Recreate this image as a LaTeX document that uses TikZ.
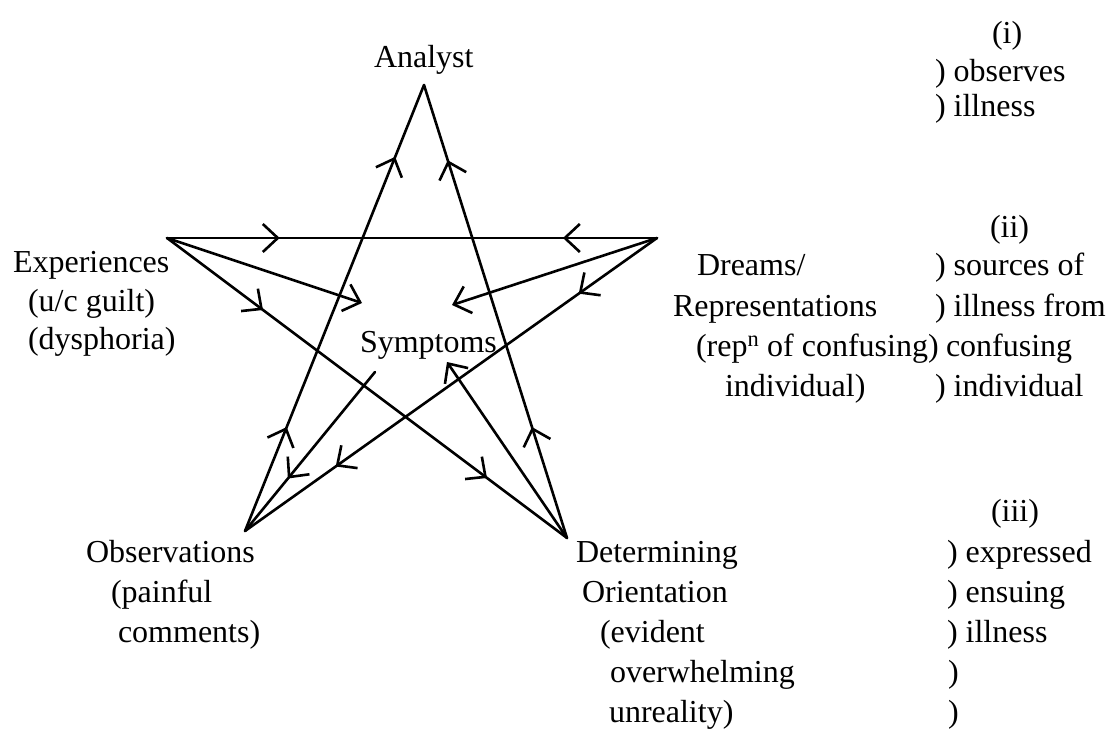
\documentclass[tikz,border=0pt]{standalone}
\usepackage{fontspec}
\setmainfont{Liberation Serif}
\usetikzlibrary{arrows.meta,decorations.markings}

\tikzset{
  chev/.tip={Straight Barb[length=15pt,width=28pt]},
  lbl/.style={inner sep=0pt, outer sep=0pt, anchor=base west,
              font=\fontsize{32}{40}\selectfont},
  edge/.style={line width=2.6pt, line cap=round, line join=round},
  twoarrows/.style 2 args={postaction={decorate},
    decoration={markings,
      mark=at position #1 with {\arrow{chev}},
      mark=at position #2 with {\arrow{chev}}}},
  inarrows/.style 2 args={postaction={decorate},
    decoration={markings,
      mark=at position #1 with {\arrow{chev}},
      mark=at position #2 with {\arrowreversed{chev}}}},
  onearrow/.style={postaction={decorate},
    decoration={markings, mark=at position #1 with {\arrow{chev}}}},
}

\begin{document}
\begin{tikzpicture}[x=1pt,y=-1pt]
  \fill[white] (0,0) rectangle (1119,730);
  \useasboundingbox (0,0) rectangle (1119,730);

  % points of the star and the ends at the centre
  \coordinate (A) at (424,85);
  \coordinate (E) at (167,238);
  \coordinate (D) at (657,238);
  \coordinate (O) at (245,531);
  \coordinate (T) at (567,538);
  \coordinate (SE) at (362,303);
  \coordinate (SD) at (452,305);
  \coordinate (SO) at (375,372);
  \coordinate (ST) at (447,362);

  % star edges
  \draw[edge, twoarrows={0.233}{0.839}] (O) -- (A);
  \draw[edge, twoarrows={0.245}{0.834}] (T) -- (A);
  \draw[edge, inarrows={0.23}{0.808}] (E) -- (D);
  \draw[edge, twoarrows={0.24}{0.80}] (E) -- (T);
  \draw[edge, twoarrows={0.19}{0.78}] (D) -- (O);

  % spokes to and from Symptoms
  \draw[edge, -{chev}] (E) -- (SE);
  \draw[edge, -{chev}] (D) -- (SD);
  \draw[edge, onearrow=0.67] (SO) -- (O);
  \draw[edge, -{chev}] (T) -- (ST);

  % labels of the star
  \node[lbl] (analyst) at (374,68) {Analyst};

  \node[lbl] (exp1) at (13,272) {Experiences};
  \node[lbl] (exp2) at (28,311) {(u/c guilt)};
  \node[lbl] (exp3) at (28,349) {(dysphoria)};

  \node[lbl] (dr1) at (697,276) {Dreams/};
  \node[lbl] (dr2) at (673,316) {Representations};
  \node[lbl] (dr3) at (696,356) {(rep\textsuperscript{n} of confusing)};
  \node[lbl] (dr4) at (725,396) {individual)};

  \node[lbl] (sym) at (360,352) {Symptoms};

  \node[lbl] (ob1) at (86,562) {Observations};
  \node[lbl] (ob2) at (111,602) {(painful};
  \node[lbl] (ob3) at (118,642) {comments)};

  \node[lbl] (de1) at (576,562) {Determining};
  \node[lbl] (de2) at (582,602) {Orientation};
  \node[lbl] (de3) at (600,642) {(evident};
  \node[lbl] (de4) at (610,682) {overwhelming};
  \node[lbl] (de5) at (609,722) {unreality)};

  % notes column
  \node[lbl] (n1) at (992,44) {(i)};
  \node[lbl] (n1a) at (935,82) {) observes};
  \node[lbl] (n1b) at (935,117) {) illness};

  \node[lbl] (n2) at (990,237) {(ii)};
  \node[lbl] (n2a) at (935,276) {) sources of};
  \node[lbl] (n2b) at (935,316) {) illness from};
  \node[lbl] (n2c) at (946,356) {confusing};
  \node[lbl] (n2d) at (935,396) {) individual};

  \node[lbl] (n3) at (991,521) {(iii)};
  \node[lbl] (n3a) at (947,562) {) expressed};
  \node[lbl] (n3b) at (947,602) {) ensuing};
  \node[lbl] (n3c) at (947,642) {) illness};
  \node[lbl] (n3d) at (948,682) {)};
  \node[lbl] (n3e) at (948,722) {)};
\end{tikzpicture}
\end{document}
